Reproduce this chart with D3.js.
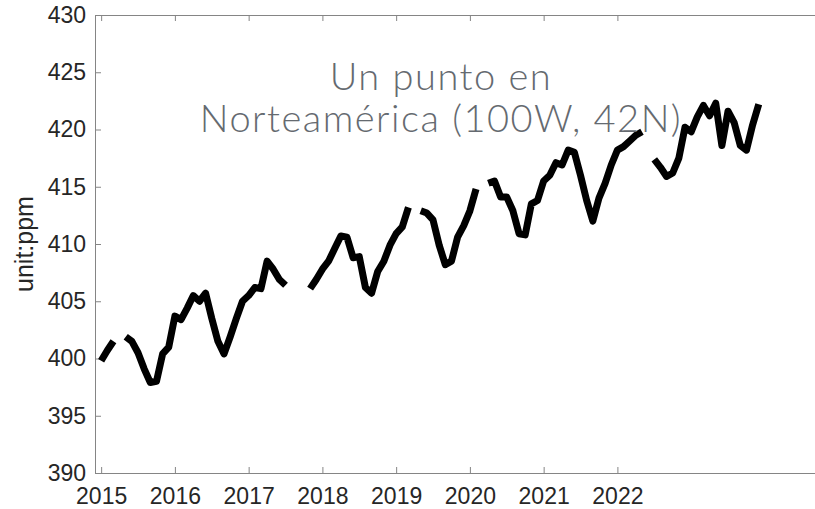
<!DOCTYPE html>
<html>
<head>
<meta charset="utf-8">
<script src="https://cdn.jsdelivr.net/npm/d3@7"></script>
<style>
  html, body { margin: 0; padding: 0; background: #fff; }
  svg { display: block; }
  .axis path, .axis line { stroke: #858585; stroke-width: 1; }
  .axis text { fill: #262626; font-family: "Liberation Sans", Arial, Helvetica, sans-serif; font-size: 23px; }
</style>
</head>
<body>
<svg id="chart" width="815" height="509"></svg>
<script>
// Monthly CO2 concentration (ppm), one entry per month starting January 2015; null = no data
const co2 = [
  399.8, 400.7, 401.5, null, 401.9, 401.5, 400.5, 399.1, 397.9, 398.0, 400.4, 401.0,   // 2015
  403.7, 403.4, 404.4, 405.5, 405.0, 405.7, 403.5, 401.5, 400.4, 401.9, 403.5, 405.0,   // 2016
  405.5, 406.2, 406.1, 408.5, 407.8, 406.9, 406.4, null, null, null, 406.1, 406.9,      // 2017
  407.8, 408.5, 409.6, 410.7, 410.6, 408.8, 408.9, 406.2, 405.7, 407.6, 408.5, 409.9,   // 2018
  410.9, 411.5, 413.2, null, 412.9, 412.7, 412.1, 409.9, 408.2, 408.5, 410.6, 411.6,    // 2019
  412.9, 414.8, null, 415.3, 415.5, 414.1, 414.1, 412.9, 410.9, 410.8, 413.5, 413.8,    // 2020
  415.5, 416.0, 417.1, 416.9, 418.2, 418.0, 416.0, 413.8, 412.0, 414.0, 415.3, 416.9,   // 2021
  418.2, 418.5, 419.0, 419.5, 419.8, null, 417.4, 416.7, 415.9, 416.2, 417.5, 420.2,    // 2022
  419.8, 421.1, 422.1, 421.2, 422.3, 418.6, 421.6, 420.6, 418.6, 418.2, 420.4, 422.2    // 2023
];

// Year ticks sit on the January month index of each year
const yearTickMonths = [1, 13, 25, 37, 49, 61, 73, 85];
const yearTickLabels = ["2015", "2016", "2017", "2018", "2019", "2020", "2021", "2022"];

const yTicks = [390, 395, 400, 405, 410, 415, 420, 425, 430];
const yDomain = [390, 430];
const xDomain = [0, 120];

const titleLines = ["Un punto en", "Norteamérica (100W, 42N)"];
const yLabel = "unit:ppm";

const svg = d3.select("#chart");
const plotLeft = 95, plotTop = 15, plotBottom = 473, plotRight = 832.5;

const x = d3.scaleLinear().domain(xDomain).range([plotLeft, plotRight]);
const y = d3.scaleLinear().domain(yDomain).range([plotBottom, plotTop]);

const points = co2.map((v, i) => ({ m: i + 1, v }));

// Box frame: bottom/left axes with labels, top/right mirrored ticks only
const tickLen = 6;
svg.append("g").attr("class", "axis")
  .attr("transform", `translate(0,${plotBottom})`)
  .call(d3.axisBottom(x).tickValues(yearTickMonths)
    .tickFormat((d, i) => yearTickLabels[i])
    .tickSizeInner(-tickLen).tickSizeOuter(0).tickPadding(15));

svg.append("g").attr("class", "axis")
  .attr("transform", `translate(0,${plotTop})`)
  .call(d3.axisTop(x).tickValues(yearTickMonths).tickFormat("")
    .tickSizeInner(-tickLen).tickSizeOuter(0));

svg.append("g").attr("class", "axis")
  .attr("transform", `translate(${plotLeft},0)`)
  .call(d3.axisLeft(y).tickValues(yTicks).tickFormat(d3.format("d"))
    .tickSizeInner(-tickLen).tickSizeOuter(0).tickPadding(9));

svg.append("g").attr("class", "axis")
  .attr("transform", `translate(${plotRight},0)`)
  .call(d3.axisRight(y).tickValues(yTicks).tickFormat("")
    .tickSizeInner(-tickLen).tickSizeOuter(0));

// Y axis label
svg.append("text")
  .attr("transform", `translate(33,${(plotTop + plotBottom) / 2}) rotate(-90)`)
  .attr("text-anchor", "middle")
  .attr("font-family", "\"Liberation Sans\", Arial, sans-serif")
  .attr("font-size", 25)
  .attr("fill", "#262626")
  .text(yLabel);

// CO2 series
const line = d3.line()
  .defined(d => d.v !== null)
  .x(d => x(d.m))
  .y(d => y(d.v));

svg.append("path")
  .datum(points)
  .attr("fill", "none")
  .attr("stroke", "#000")
  .attr("stroke-width", 7)
  .attr("stroke-linejoin", "round")
  .attr("stroke-linecap", "butt")
  .attr("d", line);

// Title annotation
const title = svg.append("text")
  .attr("text-anchor", "middle")
  .attr("font-family", "Lato, \"Open Sans\", sans-serif")
  .attr("font-weight", 300)
  .attr("font-size", 38)
  .attr("letter-spacing", 1.5)
  .attr("fill", "#656a70");
title.selectAll("tspan").data(titleLines).join("tspan")
  .attr("x", 441)
  .attr("y", (d, i) => 90 + i * 42)
  .text(d => d);
</script>
</body>
</html>
